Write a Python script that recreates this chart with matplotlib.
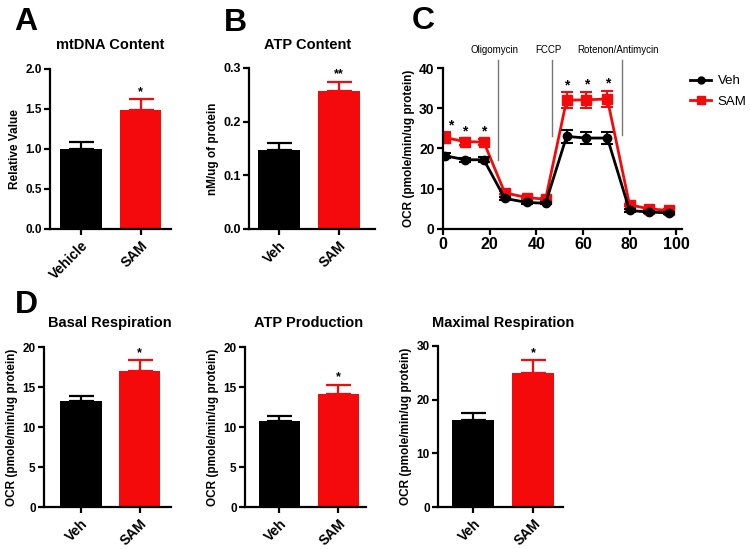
import matplotlib
matplotlib.use("Agg")
import matplotlib.pyplot as plt
from matplotlib.lines import Line2D
import numpy as np

plt.rcParams["font.family"] = ["Liberation Sans", "DejaVu Sans"]
plt.rcParams["font.weight"] = "bold"
plt.rcParams["axes.labelweight"] = "bold"

RED = "#f40a0a"
BLACK = "#000000"

# --- bar panels ---
groups_a = ["Vehicle", "SAM"]
groups = ["Veh", "SAM"]
mtdna = [1.0, 1.49]
mtdna_err = [0.09, 0.13]
atp = [0.147, 0.258]
atp_err = [0.013, 0.016]
basal = [13.2, 17.0]
basal_err = [0.7, 1.35]
atp_prod = [10.8, 14.1]
atp_prod_err = [0.6, 1.15]
maximal = [16.3, 24.9]
maximal_err = [1.2, 2.4]

# --- seahorse trace (panel C) ---
time = [1, 9.5, 17.5, 26.5, 36, 44, 53, 61.5, 70.5, 80, 88.5, 97]
ocr_veh = [18.2, 17.2, 17.2, 7.6, 6.6, 6.4, 23.0, 22.6, 22.6, 4.6, 4.2, 4.0]
ocr_veh_err = [0.6, 0.5, 0.6, 0.3, 0.3, 0.3, 1.6, 1.4, 1.5, 0.3, 0.3, 0.3]
ocr_sam = [22.7, 21.7, 21.6, 9.0, 7.8, 7.4, 32.0, 32.1, 32.3, 6.0, 5.0, 4.6]
ocr_sam_err = [1.3, 0.8, 0.8, 0.4, 0.3, 0.3, 2.0, 2.0, 2.1, 0.3, 0.3, 0.3]
star_idx = [0, 1, 2, 6, 7, 8]
injections = ["Oligomycin", "FCCP", "Rotenon/Antimycin"]
inj_time = [23.7, 46.9, 76.7]
inj_bottom = [17.2, 23.0, 23.3]

W, H = 750, 549
fig = plt.figure(figsize=(7.5, 5.49), dpi=100)


def add_ax(left, right, top, bottom):
    return fig.add_axes([left / W, 1 - bottom / H, (right - left) / W, (bottom - top) / H])


def style(ax, ysize):
    for s in ("top", "right"):
        ax.spines[s].set_visible(False)
    for s in ("left", "bottom"):
        ax.spines[s].set_linewidth(1.6)
    ax.tick_params(direction="out", length=4, width=1.6, labelsize=ysize, pad=2)


def bar_panel(ax, labels, vals, errs, ylim, yticks, fmt, ylabel, stars, xlim, ysize=8.5):
    x = np.arange(len(vals))
    cols = [BLACK, RED]
    ax.bar(x, vals, width=0.7, color=cols, zorder=2)
    for xi, v, e, c, st in zip(x, vals, errs, cols, stars):
        ax.errorbar(xi, v, yerr=[[0], [e]], color=c, capsize=9, elinewidth=1.6,
                    capthick=1.6, zorder=1)
        if st:
            ax.annotate(st, (xi, v + e), xytext=(0, 1), textcoords="offset points",
                        ha="center", va="bottom", fontsize=9)
    ax.set_xlim(*xlim)
    ax.set_ylim(*ylim)
    ax.set_yticks(yticks)
    ax.set_yticklabels([fmt.format(t) for t in yticks])
    ax.set_xticks(x)
    ax.set_xticklabels(labels, rotation=45, ha="right", rotation_mode="anchor",
                       fontsize=10)
    ax.set_ylabel(ylabel, fontsize=8.5, labelpad=3)
    style(ax, ysize)
    ax.tick_params(axis="x", labelsize=10, pad=3)


ocr_label = "OCR (pmole/min/ug protein)"

axA = add_ax(50, 171, 69, 229)
bar_panel(axA, groups_a, mtdna, mtdna_err, (0, 2.0), [0, 0.5, 1.0, 1.5, 2.0], "{:.1f}",
          "Relative Value", ["", "*"], (-0.52, 1.51))

axB = add_ax(249, 375, 68, 229)
bar_panel(axB, groups, atp, atp_err, (0, 0.3), [0, 0.1, 0.2, 0.3], "{:.1f}",
          "nM/ug of protein", ["", "**"], (-0.5, 1.6), ysize=9)

axD1 = add_ax(44, 171, 347, 507)
bar_panel(axD1, groups, basal, basal_err, (0, 20), [0, 5, 10, 15, 20], "{:d}",
          ocr_label, ["", "*"], (-0.63, 1.53), ysize=8.5)

axD2 = add_ax(245, 366, 347, 507)
bar_panel(axD2, groups, atp_prod, atp_prod_err, (0, 20), [0, 5, 10, 15, 20], "{:d}",
          ocr_label, ["", "*"], (-0.58, 1.47), ysize=8.5)

axD3 = add_ax(438, 563, 346, 507)
bar_panel(axD3, groups, maximal, maximal_err, (0, 30), [0, 10, 20, 30], "{:d}",
          ocr_label, ["", "*"], (-0.59, 1.5), ysize=8.5)

# --- panel C ---
axC = add_ax(443, 682, 68, 229)
axC.errorbar(time, ocr_veh, yerr=ocr_veh_err, color=BLACK, marker="o", ms=6,
             lw=2, elinewidth=1.5, capsize=4, capthick=1.5, zorder=3)
axC.errorbar(time, ocr_sam, yerr=ocr_sam_err, color=RED, marker="s", ms=6.5,
             lw=2, elinewidth=1.5, capsize=4, capthick=1.5, zorder=2)
for i in star_idx:
    axC.annotate("*", (time[i], ocr_sam[i] + ocr_sam_err[i]), xytext=(4 if i == 0 else 0, 0),
                 textcoords="offset points", ha="center", va="bottom", fontsize=10)
for name, t, b in zip(injections, inj_time, inj_bottom):
    axC.plot([t, t], [b, 42], color="#777777", lw=1, clip_on=False)
    axC.text(t - 1.5, 44.5, name, ha="center", va="center", fontsize=7,
             fontweight="normal")
axC.set_xlim(0, 102.5)
axC.set_ylim(0, 40)
axC.set_xticks([0, 20, 40, 60, 80, 100])
axC.set_yticks([0, 10, 20, 30, 40])
axC.set_ylabel(ocr_label, fontsize=8.5, labelpad=3)
style(axC, 10)
axC.tick_params(axis="x", labelsize=11.5)

handles = [
    Line2D([], [], color=BLACK, marker="o", ms=5, lw=2),
    Line2D([], [], color=RED, marker="s", ms=5.5, lw=2),
]
fig.legend(handles, ["Veh", "SAM"], loc="upper left", bbox_to_anchor=(690 / W, 1 - 75 / H),
           frameon=False, handlelength=1.6, handletextpad=0.5, labelspacing=0.65,
           borderpad=0, borderaxespad=0, prop={"size": 9.5, "weight": "normal"})

# titles
titles = [("mtDNA Content", 110, 45), ("ATP Content", 308, 45),
          ("Basal Respiration", 110, 323), ("ATP Production", 309, 323),
          ("Maximal Respiration", 503, 323)]
for t, x, y in titles:
    fig.text(x / W, 1 - y / H, t, ha="center", va="center", fontsize=10.5)

for lab, x, y in [("A", 26, 22), ("B", 235, 23), ("C", 423, 21), ("D", 26, 305)]:
    fig.text(x / W, 1 - y / H, lab, ha="center", va="center", fontsize=23)

fig.savefig("out.png", dpi=100, facecolor="white")
